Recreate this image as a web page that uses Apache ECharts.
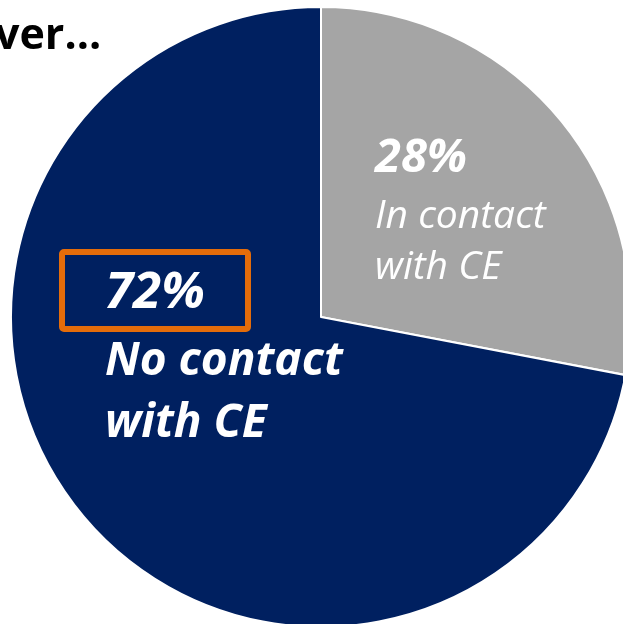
<!DOCTYPE html>
<html><head><meta charset="utf-8">
<script src="https://cdn.jsdelivr.net/npm/echarts@6/dist/echarts.min.js"></script>
<style>html,body{margin:0;padding:0;background:#fff}#c{width:623px;height:624px}</style>
</head><body><div id="c"></div>
<script>
const categories = ['In contact with CE', 'No contact with CE'];
const values = [28, 72];
const colors = ['#A5A5A5', '#002060'];
const labelLines = [['In contact', 'with CE'], ['No contact', 'with CE']];
const headingText = 'ver…';

const chart = echarts.init(document.getElementById('c'), null, {renderer: 'canvas'});
const F = '"Open Sans", sans-serif';
const white = '#FFFFFF';
chart.setOption({
  animation: false,
  backgroundColor: '#FFFFFF',
  series: [{
    type: 'pie',
    center: [321, 317],
    radius: 310,
    startAngle: 90,
    clockwise: true,
    label: {show: false},
    labelLine: {show: false},
    itemStyle: {borderColor: '#FFFFFF', borderWidth: 2},
    emphasis: {disabled: true},
    data: categories.map((c, i) => ({name: c, value: values[i], itemStyle: {color: colors[i]}}))
  }],
  graphic: [
    {type: 'text', z: 100, x: -5, y: 37, style: {text: headingText, font: 'bold 43px ' + F, fill: '#000', verticalAlign: 'middle'}},
    {type: 'text', z: 100, x: 375, y: 159, style: {text: values[0] + '%', font: 'italic bold 47px ' + F, fill: white, verticalAlign: 'middle'}},
    {type: 'text', z: 100, x: 375, y: 217, style: {text: labelLines[0][0], font: 'italic 39px ' + F, fill: white, verticalAlign: 'middle'}},
    {type: 'text', z: 100, x: 375, y: 268, style: {text: labelLines[0][1], font: 'italic 39px ' + F, fill: white, verticalAlign: 'middle'}},
    {type: 'rect', z: 100, shape: {x: 62, y: 252, width: 186, height: 77, r: 2}, style: {fill: 'none', stroke: '#E46C0A', lineWidth: 6}},
    {type: 'text', z: 100, x: 105, y: 293, style: {text: values[1] + '%', font: 'italic bold 51px ' + F, fill: white, verticalAlign: 'middle'}},
    {type: 'text', z: 100, x: 105, y: 362, style: {text: labelLines[1][0], font: 'italic bold 46px ' + F, fill: white, verticalAlign: 'middle'}},
    {type: 'text', z: 100, x: 105, y: 424, style: {text: labelLines[1][1], font: 'italic bold 46px ' + F, fill: white, verticalAlign: 'middle'}}
  ]
});
</script></body></html>
